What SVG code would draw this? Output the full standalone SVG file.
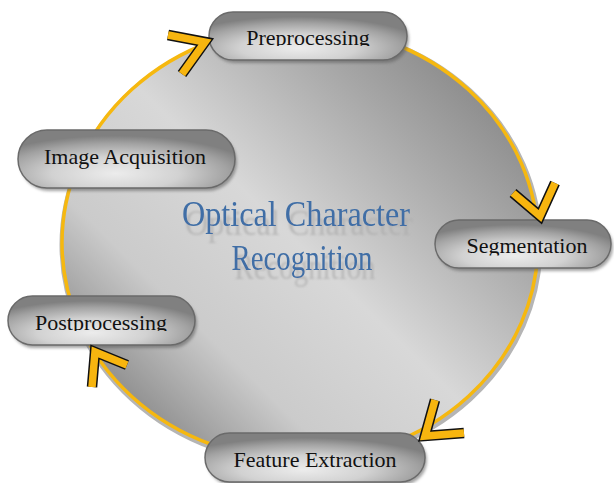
<svg xmlns="http://www.w3.org/2000/svg" width="614" height="483" viewBox="0 0 614 483">
<defs>
<linearGradient id="bg" gradientUnits="userSpaceOnUse" x1="480" y1="60" x2="120" y2="430">
<stop offset="0" stop-color="#868686"/>
<stop offset="0.2" stop-color="#a6a6a6"/>
<stop offset="0.5" stop-color="#d8d8d8"/>
<stop offset="0.75" stop-color="#cbcbcb"/>
<stop offset="1" stop-color="#808080"/>
</linearGradient>
<radialGradient id="pill" cx="0.45" cy="0.75" r="0.65">
<stop offset="0" stop-color="#ececec"/>
<stop offset="0.45" stop-color="#d2d2d2"/>
<stop offset="0.8" stop-color="#a2a2a2"/>
<stop offset="1" stop-color="#808080"/>
</radialGradient>
<filter id="sh" x="-10%" y="-20%" width="130%" height="160%">
<feGaussianBlur stdDeviation="1.5"/>
</filter>
<filter id="refl" x="-10%" y="-30%" width="120%" height="180%">
<feColorMatrix in="SourceAlpha" type="matrix" values="0 0 0 0 0.42  0 0 0 0 0.42  0 0 0 0 0.42  0 0 0 0.75 0" result="g"/>
<feOffset in="g" dx="3" dy="9" result="o"/>
<feGaussianBlur in="o" stdDeviation="0.9" result="b"/>
<feMerge><feMergeNode in="b"/><feMergeNode in="SourceGraphic"/></feMerge>
</filter>
<clipPath id="c1"><rect x="200" y="0" width="220" height="46"/></clipPath>
<clipPath id="c3"><rect x="430" y="210" width="184" height="45.5"/></clipPath>
<clipPath id="c4"><rect x="0" y="290" width="210" height="41"/></clipPath>
</defs>
<style>
.pill{fill:url(#pill);stroke:#6a6a6a;stroke-width:1.5}
.pshadow{fill:#5a5a5a;opacity:0.55;filter:url(#sh)}
.lbl{font-family:"Liberation Serif","Times New Roman",serif;font-size:22px;fill:#111;text-anchor:middle}
.title{font-family:"Liberation Serif","Times New Roman",serif;font-size:36px;fill:#3f6ea6;text-anchor:middle}
.chevO{fill:none;stroke:#111;stroke-width:10.5;stroke-linejoin:miter;stroke-miterlimit:10}
.chevI{fill:none;stroke:#f7b50f;stroke-width:7.5;stroke-linejoin:miter;stroke-miterlimit:10}
</style>
<rect width="614" height="483" fill="#ffffff"/>
<g id="circle">
<ellipse cx="301" cy="245" rx="239" ry="218" fill="none" stroke="#b5b5b5" stroke-width="5"/>
<ellipse cx="300" cy="243" rx="238" ry="217" fill="url(#bg)" stroke="#f6b80f" stroke-width="3.5"/>
</g>
<g id="title" filter="url(#refl)">
<text class="title" x="296" y="226" textLength="228" lengthAdjust="spacingAndGlyphs">Optical Character</text>
<text class="title" x="302" y="270" textLength="141" lengthAdjust="spacingAndGlyphs">Recognition</text>
</g>
<g id="preprocessing">
<rect class="pshadow" x="211" y="15" width="198" height="48" rx="24"/>
<rect class="pill" x="209" y="12" width="198" height="48" rx="24"/>
<text class="lbl" x="308" y="45" clip-path="url(#c1)">Preprocessing</text>
</g>
<g id="image-acquisition">
<rect class="pshadow" x="20" y="133" width="217" height="58" rx="29"/>
<rect class="pill" x="18" y="130" width="217" height="58" rx="29"/>
<text class="lbl" x="125" y="164">Image Acquisition</text>
</g>
<g id="segmentation">
<rect class="pshadow" x="437" y="223" width="176" height="48" rx="24"/>
<rect class="pill" x="435" y="220" width="176" height="48" rx="24"/>
<text class="lbl" x="527" y="253" clip-path="url(#c3)">Segmentation</text>
</g>
<g id="postprocessing">
<rect class="pshadow" x="10" y="299" width="187" height="49" rx="24.5"/>
<rect class="pill" x="8" y="296" width="187" height="49" rx="24.5"/>
<text class="lbl" x="101" y="330" clip-path="url(#c4)">Postprocessing</text>
</g>
<g id="feature-extraction">
<rect class="pshadow" x="207" y="436" width="220" height="49" rx="24.5"/>
<rect class="pill" x="205" y="433" width="220" height="49" rx="24.5"/>
<text class="lbl" x="315" y="467">Feature Extraction</text>
</g>
<g id="connectors">
<polyline class="chevO" points="168,35 205,42 182,74"/>
<polyline class="chevI" points="168,35 205,42 182,74"/>
<polyline class="chevO" points="513,193 540,216 555,183"/>
<polyline class="chevI" points="513,193 540,216 555,183"/>
<polyline class="chevO" points="435,400 425,436 464,433"/>
<polyline class="chevI" points="435,400 425,436 464,433"/>
<polyline class="chevO" points="127,365 95,352 92,387"/>
<polyline class="chevI" points="127,365 95,352 92,387"/>
</g>
</svg>
